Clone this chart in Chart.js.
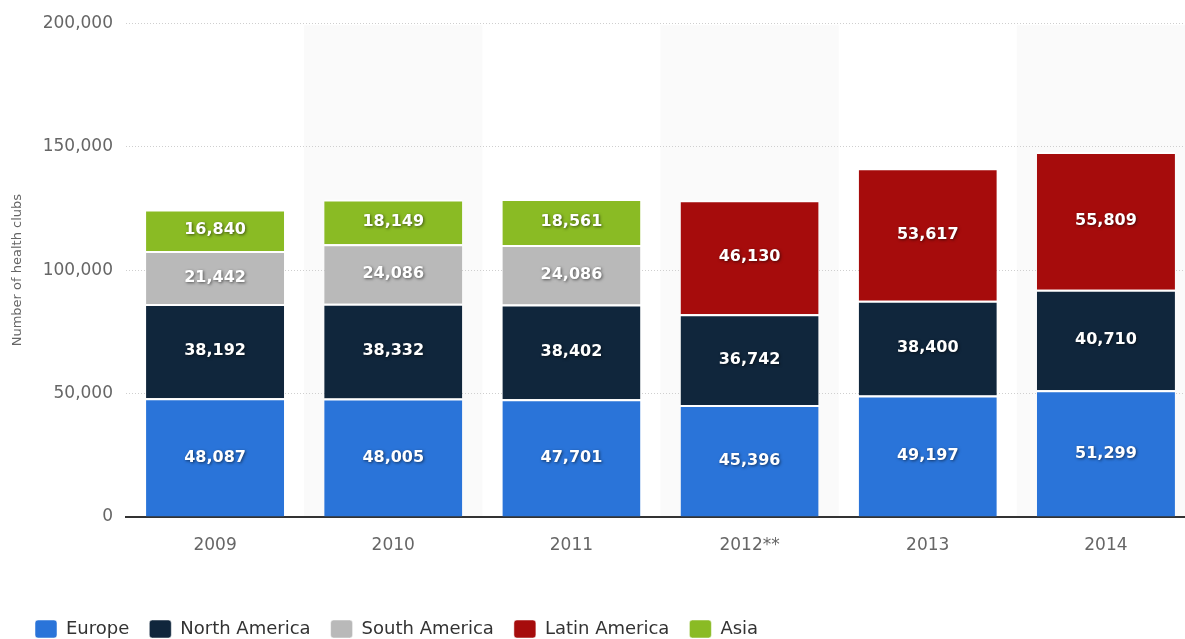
<!DOCTYPE html>
<html>
<head>
<meta charset="utf-8">
<script src="https://cdn.jsdelivr.net/npm/chart.js@4.4.1/dist/chart.umd.min.js"></script>
<style>
  html, body { margin: 0; padding: 0; background: #fff; overflow: hidden; }
  #wrap { width: 1200px; height: 639px; position: relative; }
</style>
</head>
<body>
<div id="wrap"><canvas id="clubs"></canvas></div>
<script>
const years = ['2009', '2010', '2011', '2012**', '2013', '2014'];
const europe = [48087, 48005, 47701, 45396, 49197, 51299];
const northAmerica = [38192, 38332, 38402, 36742, 38400, 40710];
const southAmerica = [21442, 24086, 24086, null, null, null];
const latinAmerica = [null, null, null, 46130, 53617, 55809];
const asia = [16840, 18149, 18561, null, null, null];
const yTicks = [0, 50000, 100000, 150000, 200000];

const font = "'DejaVu Sans', sans-serif";

// light grey band behind every second column
const bands = {
  id: 'bands',
  beforeDraw(chart) {
    const { ctx, chartArea, scales } = chart;
    const w = scales.x.width / years.length;
    ctx.save();
    ctx.fillStyle = '#fafafa';
    years.forEach((y, i) => {
      if (i % 2 === 1) {
        const cx = scales.x.getPixelForValue(i);
        ctx.fillRect(cx - w / 2, chartArea.top + 2, w, chartArea.bottom - chartArea.top - 2);
      }
    });
    ctx.restore();
  }
};

// white values in the middle of each segment
const valueLabels = {
  id: 'valueLabels',
  afterDatasetsDraw(chart) {
    const { ctx } = chart;
    ctx.save();
    ctx.font = 'bold 16px ' + font;
    ctx.textAlign = 'center';
    ctx.textBaseline = 'middle';
    ctx.fillStyle = '#fff';
    ctx.shadowColor = 'rgba(0,0,0,0.55)';
    ctx.shadowBlur = 3;
    ctx.shadowOffsetX = 1;
    ctx.shadowOffsetY = 1;
    chart.data.datasets.forEach((ds, di) => {
      chart.getDatasetMeta(di).data.forEach((bar, i) => {
        const v = ds.data[i];
        if (v == null) return;
        ctx.fillText(v.toLocaleString('en-US'), bar.x, (bar.y + bar.base) / 2);
      });
    });
    ctx.restore();
  }
};

function series(label, data, color) {
  return {
    label: label,
    data: data,
    backgroundColor: color,
    borderColor: '#fff',
    borderWidth: { top: 2, bottom: 0, left: 0, right: 0 },
    borderSkipped: false,
    categoryPercentage: 1,
    barPercentage: 0.775
  };
}

const chart = new Chart(document.getElementById('clubs'), {
  type: 'bar',
  data: {
    labels: years,
    datasets: [
      series('Europe', europe, '#2a74d9'),
      series('North America', northAmerica, '#10263c'),
      series('South America', southAmerica, '#b9b9b9'),
      series('Latin America', latinAmerica, '#a60c0c'),
      series('Asia', asia, '#8abb24')
    ]
  },
  plugins: [bands, valueLabels],
  options: {
    responsive: true,
    maintainAspectRatio: false,
    animation: false,
    layout: { padding: { top: 18, right: 5, left: 15, bottom: -9 } },
    scales: {
      x: {
        stacked: true,
        grid: { display: false },
        border: { display: true, color: '#333', width: 2 },
        ticks: { color: '#666', font: { family: font, size: 17 }, padding: 10 },
        afterFit(scale) { scale.height = 83; }
      },
      y: {
        stacked: true,
        min: 0,
        max: 200000,
        afterBuildTicks(scale) { scale.ticks = yTicks.map(v => ({ value: v })); },
        grid: { color: '#cfcfcf', borderDash: [1, 2], drawTicks: false },
        border: { display: false, dash: [1, 2] },
        ticks: {
          color: '#666',
          font: { family: font, size: 17 },
          padding: 13,
          callback: v => v.toLocaleString('en-US')
        },
        title: {
          display: true,
          text: 'Number of health clubs',
          color: '#666',
          font: { family: font, size: 13 },
          padding: { top: -5, bottom: 4 }
        },
        afterFit(scale) { scale.width = 111; }
      }
    },
    plugins: {
      legend: {
        position: 'bottom',
        align: 'start',
        labels: {
          color: '#333',
          font: { family: font, size: 18 },
          boxWidth: 22,
          boxHeight: 18,
          useBorderRadius: true,
          borderRadius: 3,
          padding: 20
        }
      },
      tooltip: { enabled: false }
    }
  }
});
</script>
</body>
</html>
